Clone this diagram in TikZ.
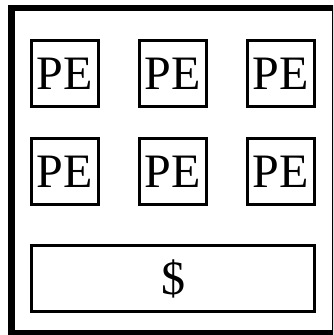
\documentclass[tikz,border=0pt]{standalone}
\usepackage{fontspec}
\setmainfont{Liberation Serif}
\usepackage{tikz}
\usetikzlibrary{positioning}

\begin{document}
\begin{tikzpicture}[
    node distance=29pt and 38pt,
    pe/.style={rectangle, draw=black, line width=3pt, inner sep=0pt,
               minimum width=67pt, minimum height=66pt,
               font=\fontsize{48}{50}\selectfont},
    cache/.style={pe, minimum width=283pt},
    frame/.style={draw=black, line width=6.5pt}
]
\useasboundingbox (0,0) rectangle (333pt,-335pt);
\clip (0,0) rectangle (333pt,-335pt);

% Outer chip frame
\draw[frame] (11.5pt,-8pt) rectangle (335pt,-333pt);

% Row 1: processing elements
\node[pe] (pe1) at (65pt,-73.5pt) {PE};
\node[pe, right=of pe1] (pe2) {PE};
\node[pe, right=of pe2] (pe3) {PE};

% Row 2: processing elements
\node[pe, below=of pe1] (pe4) {PE};
\node[pe, right=of pe4] (pe5) {PE};
\node[pe, right=of pe5] (pe6) {PE};

% Shared cache
\node[cache, below=38pt of pe5] (cache) {\$};

\end{tikzpicture}
\end{document}
